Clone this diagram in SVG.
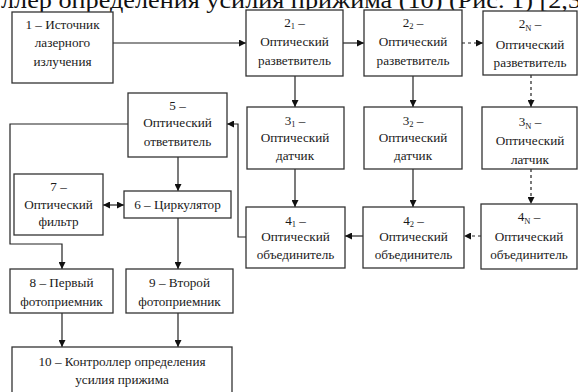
<svg xmlns="http://www.w3.org/2000/svg" width="578" height="392" viewBox="0 0 578 392">
  <style>
    .box { fill: #fff; stroke: #333; stroke-width: 1.3; }
    .t { font-family: "Liberation Serif", "Times New Roman", serif; font-size: 13.2px; fill: #1a1a1a; text-anchor: middle; }
    .cap { font-family: "Liberation Serif", "Times New Roman", serif; font-size: 23px; fill: #111; }
    .ln { fill: none; stroke: #222; stroke-width: 1.2; }
    .dash { stroke-dasharray: 3 3; }
    .sub { font-size: 8.5px; }
  </style>
  <defs>
    <marker id="ah" viewBox="0 0 10 10" refX="10" refY="5" markerWidth="7" markerHeight="7" markerUnits="userSpaceOnUse" orient="auto-start-reverse">
      <path d="M0,0 L10,5 L0,10 z" fill="#111"/>
    </marker>
  </defs>

  <rect width="578" height="392" fill="#fff"/>

  <!-- running text line above the figure -->
  <text class="cap" x="1" y="8" textLength="580" lengthAdjust="spacingAndGlyphs">ллер определения усилия прижима (10) (Рис. 1) [2,3</text>

  <!-- connectors -->
  <g id="connectors">
    <line class="ln" x1="113" y1="43" x2="246" y2="43" marker-end="url(#ah)"/>
    <line class="ln" x1="343" y1="43" x2="364" y2="43" marker-end="url(#ah)"/>
    <line class="ln dash" x1="462" y1="43" x2="483" y2="43" marker-end="url(#ah)"/>

    <line class="ln" x1="295" y1="76" x2="295" y2="107" marker-end="url(#ah)"/>
    <line class="ln" x1="413" y1="76" x2="413" y2="107" marker-end="url(#ah)"/>
    <line class="ln dash" x1="531" y1="75" x2="531" y2="107" marker-end="url(#ah)"/>

    <line class="ln" x1="295" y1="169" x2="295" y2="207" marker-end="url(#ah)"/>
    <line class="ln" x1="413" y1="169" x2="413" y2="207" marker-end="url(#ah)"/>
    <line class="ln dash" x1="531" y1="169" x2="531" y2="204" marker-end="url(#ah)"/>

    <line class="ln dash" x1="481" y1="236" x2="464" y2="236" marker-end="url(#ah)"/>
    <line class="ln" x1="363" y1="236" x2="345" y2="236" marker-end="url(#ah)"/>

    <polyline class="ln" points="246,237 238,237 238,124 227,124" marker-end="url(#ah)"/>

    <line class="ln" x1="178" y1="157" x2="178" y2="191" marker-end="url(#ah)"/>
    <line class="ln" x1="103" y1="205" x2="124" y2="205" marker-start="url(#ah)" marker-end="url(#ah)"/>

    <polyline class="ln" points="128,124 10,124 10,244 62,244 62,269" marker-end="url(#ah)"/>
    <line class="ln" x1="178" y1="218" x2="178" y2="269" marker-end="url(#ah)"/>

    <line class="ln" x1="62" y1="313" x2="62" y2="347" marker-end="url(#ah)"/>
    <line class="ln" x1="178" y1="313" x2="178" y2="347" marker-end="url(#ah)"/>
  </g>

  <g id="n1">
    <rect class="box" x="12" y="12" width="101" height="71"/>
    <text class="t" x="62.5" y="29">1 – Источник</text>
    <text class="t" x="62.5" y="47">лазерного</text>
    <text class="t" x="62.5" y="66">излучения</text>
  </g>

  <g id="n2_1">
    <rect class="box" x="246" y="10" width="97" height="66"/>
    <text class="t" x="294.5" y="27">2<tspan class="sub" dy="2">1</tspan><tspan dy="-2"> –</tspan></text>
    <text class="t" x="294.5" y="46">Оптический</text>
    <text class="t" x="294.5" y="65">разветвитель</text>
  </g>

  <g id="n2_2">
    <rect class="box" x="364" y="10" width="98" height="66"/>
    <text class="t" x="413" y="27">2<tspan class="sub" dy="2">2</tspan><tspan dy="-2"> –</tspan></text>
    <text class="t" x="413" y="46">Оптический</text>
    <text class="t" x="413" y="65">разветвитель</text>
  </g>

  <g id="n2_N">
    <rect class="box" x="483" y="11" width="94" height="64"/>
    <text class="t" x="530" y="28">2<tspan class="sub" dy="3">N</tspan><tspan dy="-3"> –</tspan></text>
    <text class="t" x="530" y="49">Оптический</text>
    <text class="t" x="530" y="67">разветвитель</text>
  </g>

  <g id="n3_1">
    <rect class="box" x="247" y="107" width="97" height="62"/>
    <text class="t" x="295" y="125">3<tspan class="sub" dy="2">1</tspan><tspan dy="-2"> –</tspan></text>
    <text class="t" x="295" y="142">Оптический</text>
    <text class="t" x="295" y="160">датчик</text>
  </g>

  <g id="n3_2">
    <rect class="box" x="364" y="107" width="98" height="62"/>
    <text class="t" x="413" y="125">3<tspan class="sub" dy="2">2</tspan><tspan dy="-2"> –</tspan></text>
    <text class="t" x="413" y="142">Оптический</text>
    <text class="t" x="413" y="160">датчик</text>
  </g>

  <g id="n3_N">
    <rect class="box" x="482" y="107" width="95" height="62"/>
    <text class="t" x="530" y="126">3<tspan class="sub" dy="3">N</tspan><tspan dy="-3"> –</tspan></text>
    <text class="t" x="530" y="145">Оптический</text>
    <text class="t" x="530" y="164">латчик</text>
  </g>

  <g id="n4_1">
    <rect class="box" x="246" y="207" width="99" height="61"/>
    <text class="t" x="295.5" y="225">4<tspan class="sub" dy="2">1</tspan><tspan dy="-2"> –</tspan></text>
    <text class="t" x="295.5" y="241">Оптический</text>
    <text class="t" x="295.5" y="259">объединитель</text>
  </g>

  <g id="n4_2">
    <rect class="box" x="363" y="207" width="101" height="61"/>
    <text class="t" x="413.5" y="225">4<tspan class="sub" dy="2">2</tspan><tspan dy="-2"> –</tspan></text>
    <text class="t" x="413.5" y="241">Оптический</text>
    <text class="t" x="413.5" y="259">объединитель</text>
  </g>

  <g id="n4_N">
    <rect class="box" x="481" y="204" width="96" height="65"/>
    <text class="t" x="529" y="221">4<tspan class="sub" dy="3">N</tspan><tspan dy="-3"> –</tspan></text>
    <text class="t" x="529" y="241">Оптический</text>
    <text class="t" x="529" y="259">объединитель</text>
  </g>

  <g id="n5">
    <rect class="box" x="128" y="93" width="99" height="64"/>
    <text class="t" x="177.5" y="110">5 –</text>
    <text class="t" x="177.5" y="127">Оптический</text>
    <text class="t" x="177.5" y="146">ответвитель</text>
  </g>

  <g id="n6">
    <rect class="box" x="124" y="191" width="107" height="27"/>
    <text class="t" x="177.5" y="209">6 – Циркулятор</text>
  </g>

  <g id="n7">
    <rect class="box" x="14" y="174" width="89" height="61"/>
    <text class="t" x="58.5" y="191">7 –</text>
    <text class="t" x="58.5" y="209">Оптический</text>
    <text class="t" x="58.5" y="226">фильтр</text>
  </g>

  <g id="n8">
    <rect class="box" x="10" y="269" width="103" height="44"/>
    <text class="t" x="61.5" y="287">8 – Первый</text>
    <text class="t" x="61.5" y="306">фотоприемник</text>
  </g>

  <g id="n9">
    <rect class="box" x="126" y="269" width="107" height="44"/>
    <text class="t" x="179.5" y="287">9 – Второй</text>
    <text class="t" x="179.5" y="306">фотоприемник</text>
  </g>

  <g id="n10">
    <rect class="box" x="12" y="347" width="220" height="50"/>
    <text class="t" x="122" y="366">10 – Контроллер определения</text>
    <text class="t" x="122" y="384">усилия прижима</text>
  </g>
</svg>
